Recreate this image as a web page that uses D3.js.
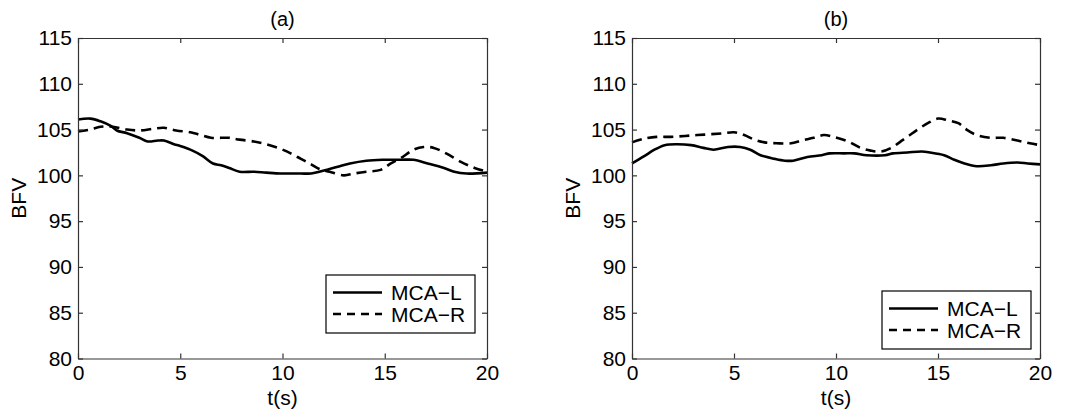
<!DOCTYPE html>
<html>
<head>
<meta charset="utf-8">
<script src="https://cdn.jsdelivr.net/npm/d3@7"></script>
<style>
body{margin:0;background:#fff;}
text{font-family:"Liberation Sans",Arial,Helvetica,sans-serif;fill:#000;}
</style>
</head>
<body>
<script>
// panel (a)
var aLeftT=[0,0.6,1.1,1.6,1.9,2.4,3.0,3.4,3.9,4.2,4.7,5.0,5.6,6.1,6.6,7.0,7.4,7.9,8.6,9.2,9.9,10.4,10.9,11.4,11.8,12.3,12.8,13.3,14.1,14.9,15.8,16.4,17.1,17.9,18.4,19.0,20]
var aLeftV=[106.1,106.2,105.9,105.4,104.9,104.6,104.1,103.7,103.8,103.8,103.4,103.2,102.7,102.1,101.3,101.1,100.8,100.4,100.4,100.3,100.2,100.2,100.2,100.2,100.4,100.7,101.0,101.3,101.6,101.7,101.7,101.7,101.3,100.8,100.4,100.2,100.3]
var aRightT=[0,0.6,1.1,1.7,2.4,3.0,3.7,4.2,4.8,5.5,6.0,6.5,7.0,7.4,7.9,8.6,9.2,9.9,10.4,10.9,11.4,11.8,12.3,13.0,13.5,14.1,14.8,15.3,15.8,16.4,16.9,17.4,18.0,18.7,19.4,20]
var aRightV=[104.8,105.0,105.3,105.3,105.0,104.9,105.1,105.2,104.9,104.7,104.4,104.1,104.1,104.1,103.9,103.7,103.4,102.9,102.4,101.8,101.2,100.7,100.4,100.0,100.2,100.4,100.6,101.3,101.9,102.8,103.1,103.0,102.4,101.5,100.8,100.4]
// panel (b)
var bLeftT=[0,0.6,1.1,1.6,2.2,2.9,3.5,4.0,4.7,5.3,5.8,6.3,7.0,7.5,7.9,8.6,9.3,9.7,10.4,10.9,11.5,12.4,12.8,13.5,14.2,14.6,15.3,15.8,16.3,16.9,17.6,18.2,18.9,19.4,20]
var bLeftV=[101.3,102.1,102.8,103.3,103.4,103.3,103.0,102.8,103.1,103.1,102.8,102.2,101.8,101.6,101.6,102.0,102.2,102.4,102.4,102.4,102.2,102.2,102.4,102.5,102.6,102.5,102.2,101.7,101.3,101.0,101.1,101.3,101.4,101.3,101.2]
var bRightT=[0,0.6,1.2,1.9,2.6,3.2,3.9,4.5,5.0,5.5,6.0,6.5,7.1,7.8,8.3,8.9,9.4,9.9,10.6,11.2,11.7,12.2,12.7,13.3,14.0,14.5,15.0,15.5,16.0,16.4,16.9,17.6,18.2,18.9,19.5,20]
var bRightV=[103.6,104.0,104.2,104.2,104.3,104.4,104.5,104.6,104.7,104.4,103.9,103.6,103.5,103.5,103.8,104.1,104.4,104.2,103.7,103.0,102.7,102.6,103.0,103.9,105.0,105.7,106.2,106.0,105.7,105.0,104.4,104.1,104.1,103.8,103.5,103.3]

var xTicks=[0,5,10,15,20]
var yTicks=[80,85,90,95,100,105,110,115]
var titles=["(a)","(b)"]
var seriesNames=["MCA\u2212L","MCA\u2212R"]

var svg=d3.select("body").append("svg")
          .attr("width",1071)
          .attr("height",412)

var zip=function(t,v){return t.map(function(d,i){return {t:d,v:v[i]}})}

var drawPanel=function(p){
  var x=d3.scaleLinear().domain([0,20]).range([p.left,p.right])
  var y=d3.scaleLinear().domain([80,115]).range([358.5,38])
  var g=svg.append("g")
  var line=d3.line().x(function(d){return x(d.t)}).y(function(d){return y(d.v)})
             .curve(d3.curveCatmullRom)
  g.append("path").datum(p.left_).attr("d",line)
   .attr("fill","none").attr("stroke","#000").attr("stroke-width",2.6)
  g.append("path").datum(p.right_).attr("d",line)
   .attr("fill","none").attr("stroke","#000").attr("stroke-width",2.6)
   .attr("stroke-dasharray","10,6")

  // axes, ticks inside on all sides
  var tk=5
  g.append("g").attr("transform","translate(0,"+y(80)+")")
   .call(d3.axisBottom(x).tickValues(xTicks).tickSizeInner(-tk).tickSizeOuter(0).tickPadding(7))
  g.append("g").attr("transform","translate(0,"+y(115)+")")
   .call(d3.axisTop(x).tickValues(xTicks).tickSizeInner(-tk).tickSizeOuter(0).tickFormat(""))
  g.append("g").attr("transform","translate("+x(0)+",0)")
   .call(d3.axisLeft(y).tickValues(yTicks).tickSizeInner(-tk).tickSizeOuter(0).tickPadding(6))
  g.append("g").attr("transform","translate("+x(20)+",0)")
   .call(d3.axisRight(y).tickValues(yTicks).tickSizeInner(-tk).tickSizeOuter(0).tickFormat(""))
  g.selectAll(".domain,.tick line").attr("stroke","#333").attr("stroke-width",1.2)
  g.selectAll(".tick text").attr("font-size","21px").attr("fill","#000")
   .attr("font-family","Liberation Sans, Arial, sans-serif")

  g.append("text").attr("x",(p.left+p.right)/2).attr("y",26)
   .attr("text-anchor","middle").attr("font-size","20px").text(p.title)
  g.append("text").attr("x",(p.left+p.right)/2).attr("y",405)
   .attr("text-anchor","middle").attr("font-size","21px").text("t(s)")
  g.append("text").attr("transform","translate("+(p.left-52)+","+y(97.5)+") rotate(-90)")
   .attr("text-anchor","middle").attr("font-size","21px").text("BFV")

  // legend
  var lg=g.append("g").attr("transform","translate("+p.lx+","+p.ly+")")
  lg.append("rect").attr("width",149).attr("height",58)
    .attr("fill","#fff").attr("stroke","#000").attr("stroke-width",1.2)
  lg.selectAll("line").data(seriesNames).enter().append("line")
    .attr("x1",7).attr("x2",56)
    .attr("y1",function(d,i){return 17.5+i*21.5}).attr("y2",function(d,i){return 17.5+i*21.5})
    .attr("stroke","#000").attr("stroke-width",2.6)
    .attr("stroke-dasharray",function(d,i){return i==1?"8,6":null})
  lg.selectAll("text").data(seriesNames).enter().append("text")
    .attr("x",65).attr("y",function(d,i){return 24.5+i*22.5})
    .attr("font-size","21px").text(function(d){return d})
}

drawPanel({left:78,right:487,title:titles[0],left_:zip(aLeftT,aLeftV),right_:zip(aRightT,aRightV),lx:326,ly:275})
drawPanel({left:632,right:1040,title:titles[1],left_:zip(bLeftT,bLeftV),right_:zip(bRightT,bRightV),lx:882,ly:291})
</script>
</body>
</html>
